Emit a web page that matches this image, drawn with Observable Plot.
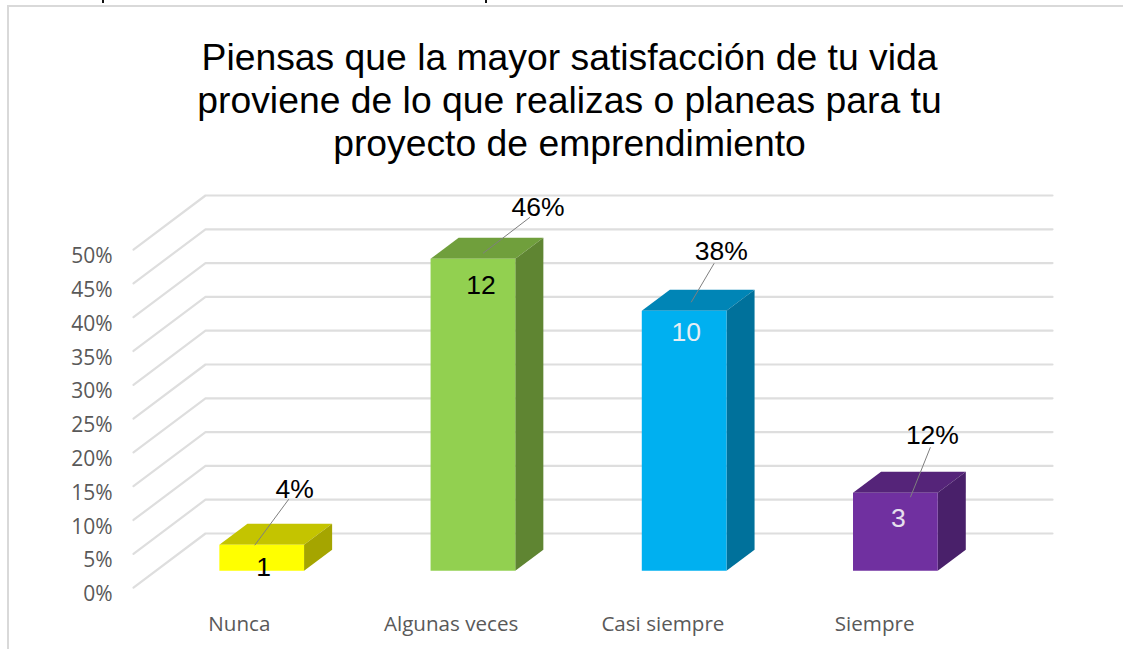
<!DOCTYPE html>
<html>
<head>
<meta charset="utf-8">
<script src="https://cdn.jsdelivr.net/npm/d3@7"></script>
<script src="https://cdn.jsdelivr.net/npm/@observablehq/plot@0.6"></script>
<style>
html,body{margin:0;padding:0;background:#fff;width:1123px;height:649px;overflow:hidden}
#frame{position:absolute;left:7px;top:5px;width:1116px;height:644px;border-left:2px solid #d9d9d9;border-top:2px solid #d9d9d9;box-sizing:border-box}
#title{position:absolute;left:0;top:36px;width:1139px;text-align:center;font:37.3px/43.2px "Liberation Sans",Arial,sans-serif;color:#000}
#chart{position:absolute;left:0;top:175px}
.speck{position:absolute;top:0;width:2px;height:3px;background:#111}
svg{overflow:visible}
</style>
</head>
<body>
<div class="speck" style="left:102px"></div><div class="speck" style="left:485px"></div>
<div id="frame"></div>
<div id="title">Piensas que la mayor satisfacción de tu vida<br>proviene de lo que realizas o planeas para tu<br>proyecto de emprendimiento</div>
<div id="chart"></div>
<script>
const categories = ["Nunca", "Algunas veces", "Casi siempre", "Siempre"];
const counts = [1, 12, 10, 3];
const percents = [3.85, 46.15, 38.46, 11.54];
const percentLabels = ["4%", "46%", "38%", "12%"];
const yTicks = [0, 5, 10, 15, 20, 25, 30, 35, 40, 45, 50];
const frontColors = ["#ffff00", "#92d050", "#00b0f0", "#7030a0"];
const topColors = ["#c4c400", "#709f3c", "#0085b6", "#552479"];
const sideColors = ["#a5a500", "#5f8532", "#00719b", "#49206a"];
const countColors = ["#000", "#000", "#e6eef4", "#e6e0ee"];

// oblique projection: depth d (0 = back wall, 1 = front edge) shifts in data units
const skewX = -0.34, skewY = -8;
const uPx = 1 / 211.75, vPx = 1 / 6.76;
const P = (u, v, d) => ({x: u + skewX * d, y: v + skewY * d});
const barHalf = 0.2, barStep = 0.9975, dFront = 0.69, dBack = 0.30, dMid = 0.495;
const centre = i => i * barStep + 0.5;

const gridRows = yTicks.flatMap(v => [
  {v, ...P(0, v, 1)}, {v, ...P(0, v, 0)}, {v, ...P(4, v, 0)}
]);

const faces = [];
categories.forEach((c, i) => {
  const a = centre(i) - barHalf, b = centre(i) + barHalf, h = percents[i];
  const poly = (name, fill, pts) => pts.forEach(p => faces.push({id: c + name, fill, ...P(...p)}));
  poly("top", topColors[i], [[a, h, dFront], [b, h, dFront], [b, h, dBack], [a, h, dBack]]);
  poly("side", sideColors[i], [[b, 0, dFront], [b, h, dFront], [b, h, dBack], [b, 0, dBack]]);
  poly("front", frontColors[i], [[a, 0, dFront], [b, 0, dFront], [b, h, dFront], [a, h, dFront]]);
});

// offsets from each bar's top centre, in pixels
const leaderPx = [[-21, 11, 13, -35], [-4, 5, 43, -31], [-7, 2, 16, -37], [1, 15, 21, -35]];
const labelShiftPx = [[6, -10], [8, -10], [7, -12], [2, -12]];
const countShiftPx = [[2, 23], [8, 27], [2, 22], [3, 26]];
const anchor = i => P(centre(i), percents[i], dMid);
const leaders = categories.map((c, i) => {
  const A = anchor(i), L = leaderPx[i], S = labelShiftPx[i];
  return {
    x1: A.x + L[0] * uPx, y1: A.y - L[1] * vPx,
    x2: A.x + L[2] * uPx, y2: A.y - L[3] * vPx,
    lx: A.x + (L[2] + S[0]) * uPx, ly: A.y - (L[3] + S[1]) * vPx,
    label: percentLabels[i]
  };
});
const counted = categories.map((c, i) => {
  const F = P(centre(i), percents[i], dFront), S = countShiftPx[i];
  return {x: F.x + S[0] * uPx, y: F.y - S[1] * vPx, n: counts[i], color: countColors[i]};
});
const catRows = categories.map((c, i) => ({c, ...P(i + 0.5, 0, 1)}));

const plot = Plot.plot({
  width: 1123, height: 474,
  marginLeft: 112, marginRight: 0, marginTop: 0, marginBottom: 0,
  x: {domain: [0, 4], range: [205, 1052], axis: null},
  y: {domain: [0, 50], range: [358, 20], axis: null},
  style: {background: "transparent", overflow: "visible"},
  marks: [
    Plot.line(gridRows, {x: "x", y: "y", z: "v", stroke: "#dedede", strokeWidth: 2.2, strokeLinejoin: "miter"}),
    Plot.line(faces, {x: "x", y: "y", z: "id", fill: "fill", stroke: "none"}),
    Plot.link(leaders, {x1: "x1", y1: "y1", x2: "x2", y2: "y2", stroke: "#7f7f7f", strokeWidth: 1}),
    Plot.axisY({ticks: yTicks, tickSize: 0, tickPadding: 0, dy: 61, tickFormat: d => d + "%", fontSize: 21, fill: "#595959", fontFamily: "Open Sans", label: null}),
    Plot.text(catRows, {x: "x", y: "y", text: "c", dy: 37, fontSize: 20.6, fill: "#595959", fontFamily: "Open Sans"}),
    Plot.text(leaders, {x: "lx", y: "ly", text: "label", fontSize: 26.5, fill: "#000", fontFamily: "Liberation Sans"}),
    ...counted.map(d => Plot.text([d], {x: "x", y: "y", text: "n", fontSize: 26.5, fill: d.color, fontFamily: "Liberation Sans"}))
  ]
});
document.getElementById("chart").appendChild(plot);
</script>
</body>
</html>
